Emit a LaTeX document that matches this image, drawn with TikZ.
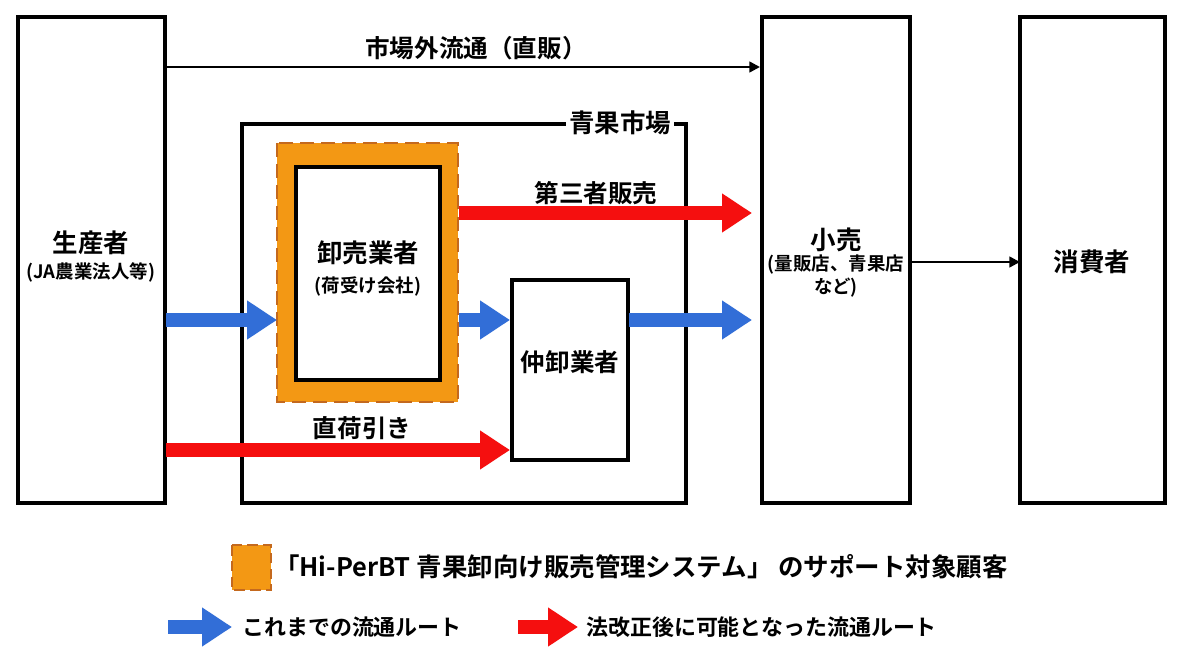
\documentclass[tikz,border=0pt]{standalone}
\usepackage{fontspec}
\setmainfont{Noto Sans CJK JP}[BoldFont={Noto Sans CJK JP Bold}]
\usetikzlibrary{arrows.meta}
\definecolor{cblue}{RGB}{50,110,215}
\definecolor{cred}{RGB}{245,15,15}
\definecolor{corange}{RGB}{243,152,20}
\definecolor{cdash}{RGB}{196,105,30}
\begin{document}
\begin{tikzpicture}[x=0.02cm,y=-0.02cm,
  box/.style={draw=black,line width=1.8pt,fill=white},
  lbl/.style={font=\bfseries\fontsize{14.5}{17}\selectfont},
  sub/.style={font=\bfseries\fontsize{10.5}{13}\selectfont},
  elbl/.style={font=\bfseries\fontsize{14}{16}\selectfont},
  fatb/.style={draw=cblue,line width=8pt,-{Triangle[length=17pt,width=21pt]}},
  fatr/.style={draw=cred,line width=8pt,-{Triangle[length=17pt,width=21pt]}},
  thin/.style={draw=black,line width=1.4pt,-{Triangle[length=6pt,width=6pt]}}]
\useasboundingbox (0,0) rectangle (1200,672);
\fill[white] (0,0) rectangle (1200,672);
% big boxes
\draw[box] (18,17) rectangle (165,503);
\node[lbl] (prod) at (91,243) {生産者};
\node[sub] (prodsub) at (91,272) {(JA農業法人等)};
\draw[box] (762,17) rectangle (910,503);
\node[lbl] (ret) at (836,240) {小売};
\node[sub,align=center,inner sep=0pt] (retsub) at (836,276) {(量販店、青果店\\など)};
\draw[box] (1020,17) rectangle (1165,503);
\node[lbl] (cons) at (1092,262) {消費者};
% market
\draw[box] (242,124) rectangle (686,503);
\node[lbl,fill=white,inner sep=2pt] (mkt) at (620,123) {青果市場};
% orange
\draw[fill=corange,draw=cdash,line width=1.2pt,dash pattern=on 8pt off 4pt] (277,143) rectangle (458,402);
\draw[box] (296,167) rectangle (440,380);
\node[lbl] (whole) at (368,253) {卸売業者};
\node[sub] (wholesub) at (368,286) {(荷受け会社)};
\draw[box] (512,280) rectangle (628,460);
\node[font=\bfseries\fontsize{14}{16}\selectfont] (inter) at (570,362) {仲卸業者};
% connectors
\coordinate (a1) at (165,67); \coordinate (a2) at (760,67);
\draw[thin] (a1) -- (a2);
\node[elbl] (l1) at (476,48) {市場外流通（直販）};
\coordinate (r1) at (459,213); \coordinate (r2) at (752,213);
\draw[fatr] (r1) -- (r2);
\node[elbl] (l2) at (596,193) {第三者販売};
\coordinate (b1) at (166,320); \coordinate (b2) at (277,320);
\draw[fatb] (b1) -- (b2);
\coordinate (b3) at (459,320); \coordinate (b4) at (510,320);
\draw[fatb] (b3) -- (b4);
\coordinate (b5) at (629,320); \coordinate (b6) at (752,320);
\draw[fatb] (b5) -- (b6);
\coordinate (r3) at (166,450); \coordinate (r4) at (510,450);
\draw[fatr] (r3) -- (r4);
\node[elbl] (l3) at (362,428) {直荷引き};
\coordinate (c1) at (910,262); \coordinate (c2) at (1020,262);
\draw[thin] (c1) -- (c2);
% legend
\draw[fill=corange,draw=cdash,line width=1pt,dash pattern=on 6pt off 3pt] (232,545) rectangle (271,590);
\node[anchor=west,font=\bfseries\fontsize{14.5}{17}\selectfont] (lg1) at (268,567) {「Hi-PerBT 青果卸向け販売管理システム」 のサポート対象顧客};
\coordinate (lb1) at (168,627); \coordinate (lb2) at (232,627);
\draw[fatb] (lb1) -- (lb2);
\node[anchor=west,font=\bfseries\fontsize{12.5}{15}\selectfont] (lg2) at (236,627) {これまでの流通ルート};
\coordinate (lr1) at (518,627); \coordinate (lr2) at (578,627);
\draw[fatr] (lr1) -- (lr2);
\node[anchor=west,font=\bfseries\fontsize{12.5}{15}\selectfont] (lg3) at (580,627) {法改正後に可能となった流通ルート};
\end{tikzpicture}
\end{document}
